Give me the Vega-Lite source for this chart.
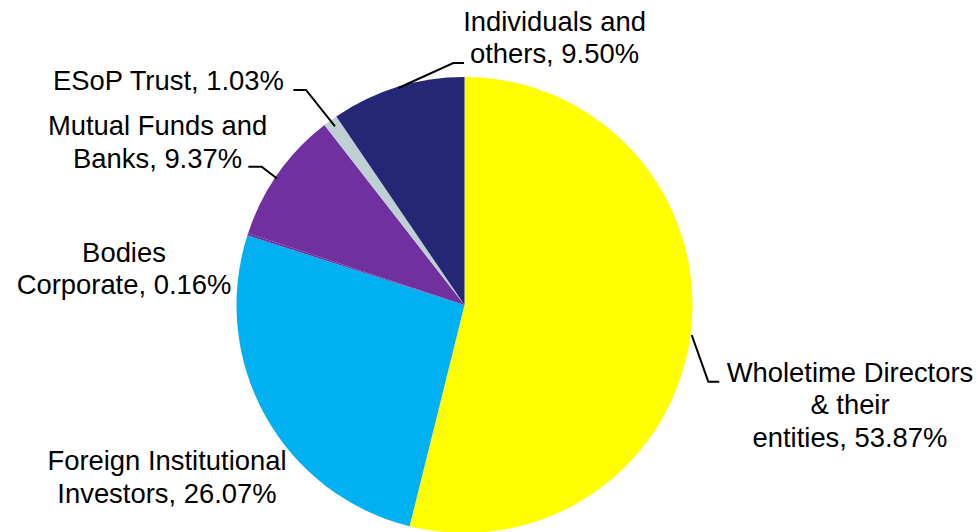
{
  "$schema": "https://vega.github.io/schema/vega-lite/v6.json",
  "width": 929,
  "height": 454,
  "padding": {"left": 0, "top": 78, "right": 49, "bottom": 0},
  "autosize": {"type": "none"},
  "background": "white",
  "config": {"view": {"stroke": null}, "text": {"font": "Liberation Sans"}},
  "data": {
    "values": [
      {"category": "Wholetime Directors & their entities", "share": 53.87, "rank": 1, "label": "Wholetime Directors\n& their\nentities, 53.87%"},
      {"category": "Foreign Institutional Investors", "share": 26.07, "rank": 2, "label": "Foreign Institutional\nInvestors, 26.07%"},
      {"category": "Bodies Corporate", "share": 0.16, "rank": 3, "label": "Bodies\nCorporate, 0.16%"},
      {"category": "Mutual Funds and Banks", "share": 9.37, "rank": 4, "label": "Mutual Funds and\nBanks, 9.37%"},
      {"category": "ESoP Trust", "share": 1.03, "rank": 5, "label": "ESoP Trust, 1.03%"},
      {"category": "Individuals and others", "share": 9.5, "rank": 6, "label": "Individuals and\nothers, 9.50%"}
    ]
  },
  "layer": [
    {
      "encoding": {
        "theta": {"field": "share", "type": "quantitative", "stack": true, "scale": {"domain": [0, 100]}},
        "order": {"field": "rank", "type": "quantitative"}
      },
      "layer": [
        {
          "mark": {"type": "arc", "outerRadius": 228},
          "encoding": {
            "color": {
              "field": "category",
              "type": "nominal",
              "legend": null,
              "scale": {
                "domain": ["Wholetime Directors & their entities", "Foreign Institutional Investors", "Bodies Corporate", "Mutual Funds and Banks", "ESoP Trust", "Individuals and others"],
                "range": ["#FFFF00", "#00B0F0", "#6A2E9E", "#7030A0", "#BFD0D4", "#262676"]
              }
            }
          }
        },
        {
          "mark": {"type": "text", "radius": 300, "dx": 87.7, "dy": 40.6, "align": "center", "baseline": "alphabetic", "fontSize": 27.4, "lineHeight": 32.3, "lineBreak": "\n", "color": "black"},
          "encoding": {"detail": {"field": "category"}, "text": {"condition": {"test": "datum.rank === 1", "field": "label"}, "value": ""}}
        },
        {
          "mark": {"type": "text", "radius": 300, "dx": -35.5, "dy": 19.4, "align": "center", "baseline": "alphabetic", "fontSize": 27.4, "lineHeight": 32.3, "lineBreak": "\n", "color": "black"},
          "encoding": {"detail": {"field": "category"}, "text": {"condition": {"test": "datum.rank === 2", "field": "label"}, "value": ""}}
        },
        {
          "mark": {"type": "text", "radius": 300, "dx": -55.3, "dy": 50, "align": "center", "baseline": "alphabetic", "fontSize": 27.4, "lineHeight": 32.3, "lineBreak": "\n", "color": "black"},
          "encoding": {"detail": {"field": "category"}, "text": {"condition": {"test": "datum.rank === 3", "field": "label"}, "value": ""}}
        },
        {
          "mark": {"type": "text", "radius": 300, "dx": -61.9, "dy": 3.5, "align": "center", "baseline": "alphabetic", "fontSize": 27.4, "lineHeight": 32.3, "lineBreak": "\n", "color": "black"},
          "encoding": {"detail": {"field": "category"}, "text": {"condition": {"test": "datum.rank === 4", "field": "label"}, "value": ""}}
        },
        {
          "mark": {"type": "text", "radius": 300, "dx": -119.5, "dy": 27.5, "align": "center", "baseline": "alphabetic", "fontSize": 27.4, "lineHeight": 32.3, "lineBreak": "\n", "color": "black"},
          "encoding": {"detail": {"field": "category"}, "text": {"condition": {"test": "datum.rank === 5", "field": "label"}, "value": ""}}
        },
        {
          "mark": {"type": "text", "radius": 300, "dx": 178.2, "dy": 12.7, "align": "center", "baseline": "alphabetic", "fontSize": 27.4, "lineHeight": 32.3, "lineBreak": "\n", "color": "black"},
          "encoding": {"detail": {"field": "category"}, "text": {"condition": {"test": "datum.rank === 6", "field": "label"}, "value": ""}}
        }
      ]
    },
    {
      "mark": {"type": "point", "filled": false, "stroke": "black", "strokeWidth": 2, "opacity": 1, "size": 207936},
      "encoding": {
        "shape": {
          "field": "category",
          "type": "nominal",
          "legend": null,
          "scale": {
            "domain": ["Wholetime Directors & their entities", "Foreign Institutional Investors", "Bodies Corporate", "Mutual Funds and Banks", "ESoP Trust", "Individuals and others"],
            "range": [
              "M0.9965,0.1316L1.0693,0.3364L1.1175,0.3364",
              "M0,0L0,0",
              "M0,0L0,0",
              "M-0.8224,-0.5548L-0.8895,-0.6066L-0.9482,-0.6066",
              "M-0.568,-0.783L-0.6952,-0.943L-0.75,-0.943",
              "M-0.2904,-0.9518L-0.0491,-1.0614L-0.0022,-1.0614"
            ]
          }
        }
      }
    }
  ]
}
